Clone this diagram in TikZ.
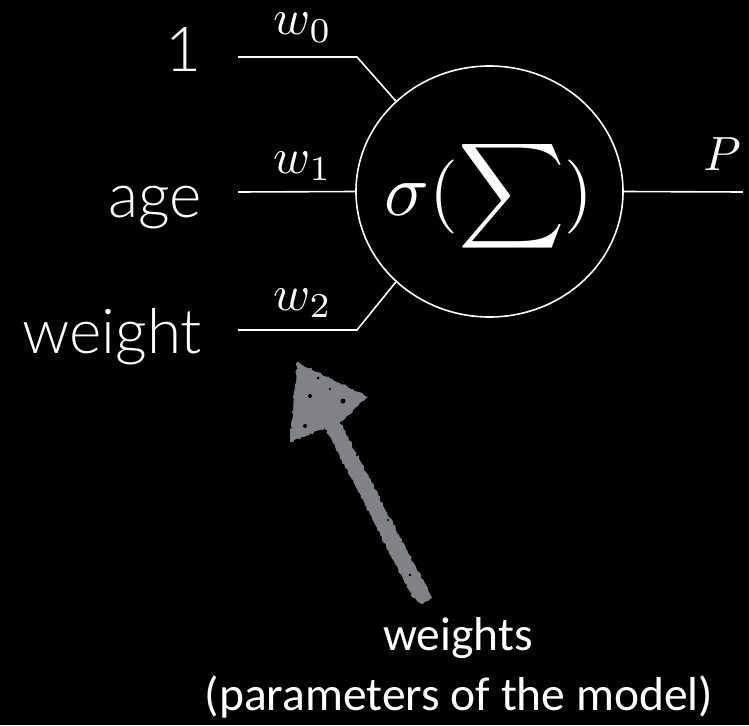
\documentclass[tikz,border=0pt]{standalone}
\usepackage{graphicx}
\usepackage{fontspec}
\newfontfamily\helv{Lato Light}
\newfontfamily\calib{Carlito}
\usetikzlibrary{shapes.geometric,decorations.pathmorphing}
\definecolor{arrowgray}{HTML}{808285}
\begin{document}
\begin{tikzpicture}[x=1pt,y=-1pt,
  wire/.style={draw=white,line width=1.6pt},
  inlabel/.style={text=white,inner sep=0pt,anchor=base east,font=\helv\fontsize{62}{70}\selectfont},
  wlabel/.style={text=white,inner sep=0pt,anchor=base},
  note/.style={text=white,inner sep=0pt,anchor=base,font=\calib\fontsize{47.5}{52}\selectfont},
  neuronstyle/.style={ellipse,draw=white,line width=1.6pt,minimum width=267pt,minimum height=251pt,inner sep=0pt},
  rough/.style={decorate,decoration={random steps,segment length=2.5pt,amplitude=1.2pt}}]
\fill[black] (0,0) rectangle (749,725);
\useasboundingbox (0,0) rectangle (749,725);
% neuron
\node[neuronstyle] (neuron) at (489.5,191.5) {};
\node[text=white,inner sep=0pt,anchor=base] (act) at (489,215) {\fontsize{10}{12}\selectfont\scalebox{7.4}{$\sigma(\displaystyle\sum)$}};
% inputs
\node[inlabel] (one) at (202,71) {1};
\node[inlabel] (age) at (202,217) {age};
\node[inlabel] (weight) at (202,353) {weight};
\coordinate (s0) at (238,57);
\coordinate (b0) at (357,57);
\coordinate (s1) at (238,192);
\coordinate (s2) at (238,330);
\coordinate (b2) at (357,330);
\coordinate (o) at (743,192);
\draw[wire] (s0) -- (b0) -- (neuron.136);
\draw[wire] (s1) -- (neuron.west);
\draw[wire] (s2) -- (b2) -- (neuron.224);
\draw[wire] (neuron.east) -- (o);
% weight labels
\node[wlabel] (w0) at (303,35) {\fontsize{10}{12}\selectfont\scalebox{5}{$w_0$}};
\node[wlabel] (w1) at (303,173) {\fontsize{10}{12}\selectfont\scalebox{5}{$w_1$}};
\node[wlabel] (w2) at (303,310) {\fontsize{10}{12}\selectfont\scalebox{5}{$w_2$}};
\node[wlabel] (p) at (722,170) {\fontsize{10}{12}\selectfont\scalebox{4.8}{$P$}};
% annotation
\node[note] (t1) at (458,650) {weights};
\node[note] (t2) at (459,710) {(parameters of the model)};
\coordinate (tip) at (297,362);
\coordinate (tail) at (423,604);
\fill[arrowgray,rough] (tip) -- (368,397) -- (340,422) -- (432,598) -- (tail) -- (413,598) -- (325,428) -- (290,442) -- cycle;
\fill[black] (310,396) circle (2pt) (343,401) circle (2.5pt) (318,378) circle (1.5pt) (305,426) circle (2pt) (330,389) circle (1.2pt) (357,455) circle (1.3pt) (388,520) circle (1.2pt) (410,575) circle (1.4pt);
\end{tikzpicture}
\end{document}
